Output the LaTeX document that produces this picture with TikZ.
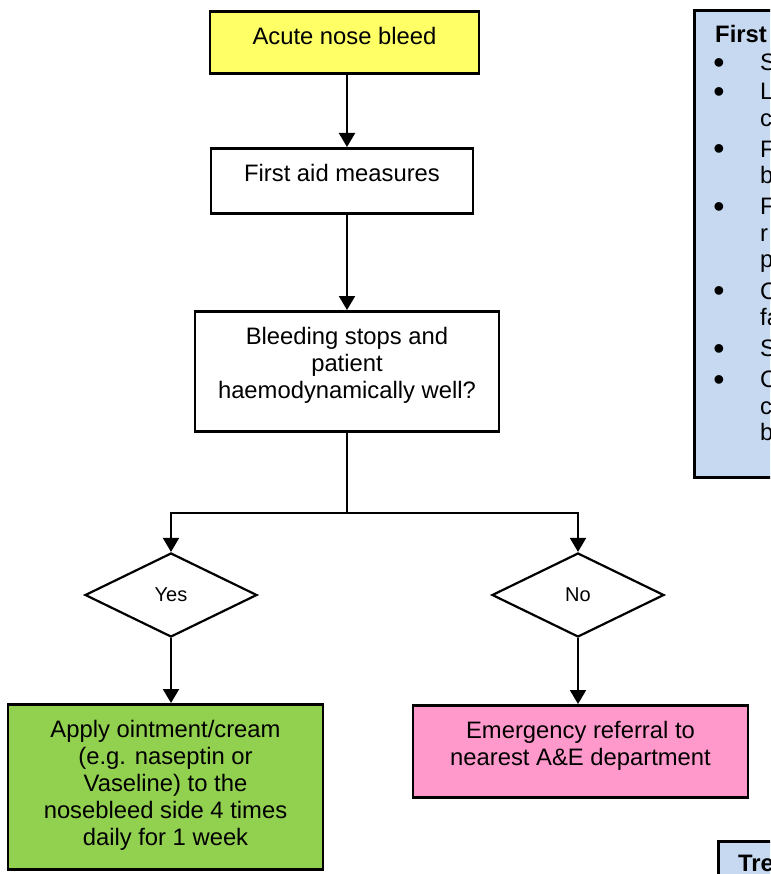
\documentclass[tikz,border=0pt]{standalone}
\usepackage{fontspec}
\setmainfont{Liberation Sans}
\usetikzlibrary{arrows.meta,shapes.geometric}

\definecolor{startyellow}{RGB}{255,255,102}
\definecolor{homegreen}{RGB}{146,208,80}
\definecolor{referpink}{RGB}{255,153,204}
\definecolor{infoblue}{RGB}{198,217,241}

\tikzset{
  flowbox/.style={draw,line width=2.6pt,inner sep=0pt,align=center},
  choice/.style={draw,diamond,line width=2.2pt,inner sep=0pt,minimum width=172pt,
    minimum height=84pt,font=\fontsize{20}{24}\selectfont},
  sidebox/.style={draw,fill=infoblue,line width=2.6pt,inner sep=0pt,anchor=north west},
  sidetext/.style={anchor=base west,inner sep=0pt},
  conn/.style={line width=2pt},
  arr/.style={conn,-{Triangle[width=16pt,length=14pt]}}
}

\begin{document}
\begin{tikzpicture}[x=1pt,y=-1pt,font=\fontsize{23.8}{26.8}\selectfont]
  % Page
  \useasboundingbox (0,0) rectangle (770,874);
  \clip (0,0) rectangle (770,874);
  %
  % Main column
  \node[flowbox,fill=startyellow,minimum width=269pt,text height=33.5pt,text depth=28.5pt,anchor=north]
    (acute) at (344.5,10) {Acute nose bleed};
  \node[flowbox,fill=white,minimum width=262pt,text height=33.5pt,text depth=31.5pt,anchor=north]
    (firstaid) at (342,147) {First aid measures};
  \node[flowbox,fill=white,minimum width=304pt,text height=87.1pt,text depth=32.9pt,anchor=north]
    (bleed) at (347,310) {Bleeding stops and\\patient\\haemodynamically well?};
  %
  % Decisions
  \node[choice] (yes) at (171,595) {Yes};
  \node[choice] (no) at (578,595) {No};
  %
  % Outcomes
  \node[flowbox,fill=homegreen,minimum width=315pt,text height=140.7pt,text depth=24.3pt,anchor=north]
    (apply) at (165.5,703) {Apply ointment/cream\\(e.g. naseptin or\\Vaseline) to the\\nosebleed side 4 times\\daily for 1 week};
  \node[flowbox,fill=referpink,minimum width=335pt,text height=60.3pt,text depth=31.7pt,anchor=north]
    (refer) at (580.5,704) {Emergency referral to\\nearest A\&E department};
  %
  % Connectors
  \coordinate (split) at (347,513);
  \draw[arr] (acute.south -| bleed.north) -- (firstaid.north -| bleed.north);
  \draw[arr] (firstaid.south -| bleed.north) -- (bleed.north);
  \draw[conn] (bleed.south) -- (split);
  \draw[arr] (split) -| (yes.north);
  \draw[arr] (split) -| (no.north);
  \draw[arr] (yes.south) -- (yes.south |- apply.north);
  \draw[arr] (no.south) -- (no.south |- refer.north);
  %
  % Side panels (cut by the page edge)
  \node[sidebox,minimum width=120pt,minimum height=467pt] (aidbox) at (693,9) {};
  \node[sidetext,font=\fontsize{23.8}{26.8}\selectfont\bfseries] (aidtitle) at (715,42.7) {First};
  \foreach \y/\t [count=\i] in {71/S,100/L,126.5/c,157.5/F,184/b,215/F,241.5/r,
      268/p,299/C,325.5/fa,356.5/S,387.5/C,414/c,440.5/b}
    \node[sidetext] (aidline\i) at (760,\y) {\t};
  \foreach \y [count=\i] in {71,100,157.5,215,299,356.5,387.5}
    \node[anchor=base,inner sep=0pt,font=\fontsize{32}{32}\selectfont] (aiddot\i) at (719,\y+2.5) {•};
  %
  \node[sidebox,minimum width=80pt,minimum height=60pt] (treatbox) at (717,840) {};
  \node[sidetext,font=\fontsize{23.8}{26.8}\selectfont\bfseries] (treattitle) at (738,871) {Tre};
  %
\end{tikzpicture}
\end{document}
